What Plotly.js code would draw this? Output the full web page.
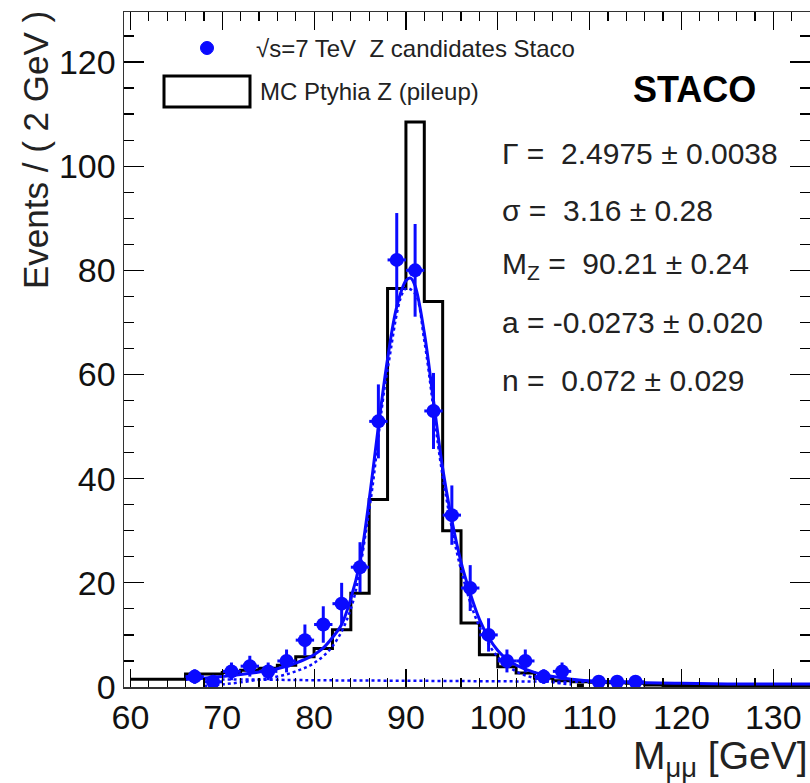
<!DOCTYPE html>
<html>
<head>
<meta charset="utf-8">
<script src="https://cdn.plot.ly/plotly-3.0.1.min.js"></script>
<style>html,body{margin:0;padding:0;background:#fff;}#plot{width:810px;height:783px;}</style>
</head>
<body>
<div id="plot"></div>
<script>
// ---- data ----
const binWidth = 2;
const mcLowEdges = [60,62,64,66,68,70,72,74,76,78,80,82,84,86,88,90,92,94,96,98,100,102,104,106,108,110,112,114,116,118,120,122,124,126,128,130,132];
const mcCounts   = [1.5,1.5,1.5,2.5,2.5,2.8,3.2,3.6,4.2,5.8,7.4,11,18,36,76.5,108.5,74,30,12.3,6.2,3.9,2.7,1.7,1.2,1.0,0.9,0.8,0.7,0.4,0.3,0.3,0.2,0.2,0.2,0.1,0.1,0.1];

const dataX   = [67,69,71,73,75,77,79,81,83,85,87,89,91,93,95,97,99,101,103,105,107,111,113,115];
const dataY   = [2,1,3,4,3,5,9,12,16,23,51,82,80,53,33,19,10,5,5,2,3,1,1,1];
const dataErr = [1.4,1,1.7,2,1.7,2.2,3,3.5,4,4.8,7.1,9,8.9,7.3,5.7,4.4,3.2,2.2,2.2,1.4,1.7,1,1,1];
const emptyX = [109];
const emptyY = [0];

const fitX = [66,68,70,72,74,76,77,78,79,80,81,82,83,84,85,86,87,88,89,90,90.5,91,92,93,94,95,96,97,98,99,100,101,102,104,106,108,110,112,114,116,120,125,130,134];
const fitY = [1.5,1.7,2.0,2.4,2.9,3.5,4.0,4.6,5.3,6.2,7.5,9.5,12,17,24,36,50,63,73,78,78.5,77,68,55,42,32,24,18,13,9.5,7,5.3,4.2,2.8,2.0,1.5,1.2,1.0,0.9,0.8,0.7,0.6,0.6,0.6];

const sigX = [68,70,72,74,76,78,80,82,84,86,88,90,91,92,94,96,98,100,102,104,106,108];
const sigY = [0.2,0.5,0.9,1.4,2.0,3.0,4.6,7.8,15,34,61,76.5,75.5,66.5,40.5,22.5,11.6,5.8,3.0,1.7,0.9,0.5];

const bgX = [66,75,80,90,100,108,116];
const bgY = [1.5,1.4,1.3,1.2,1.1,1.0,0.9];

const yTickVals = [0,20,40,60,80,100,120];
const xTickVals = [60,70,80,90,100,110,120,130];

const fitParams = [
  "Γ =  2.4975 ± 0.0038",
  "σ =  3.16 ± 0.28",
  "M<sub>Z</sub> =  90.21 ± 0.24",
  "a = -0.0273 ± 0.020",
  "n =  0.072 ± 0.029"
];
const legendLabels = ["√s=7 TeV  Z candidates Staco", "MC Ptyhia Z (pileup)"];

// ---- build traces ----
const blue = "#0a0aff";
const FONT = "Liberation Sans, Arial, Helvetica, sans-serif";

const mcStepX = mcLowEdges.concat([mcLowEdges[mcLowEdges.length-1] + binWidth]);
const mcStepY = mcCounts.concat([mcCounts[mcCounts.length-1]]);

const traces = [
  {x: mcStepX, y: mcStepY, type: "scatter", mode: "lines",
   line: {shape: "hv", color: "#000", width: 3}, hoverinfo: "skip"},
  {x: bgX, y: bgY, type: "scatter", mode: "lines",
   line: {color: blue, width: 2.5, dash: "dot", shape: "spline"}},
  {x: sigX, y: sigY, type: "scatter", mode: "lines",
   line: {color: blue, width: 2.5, dash: "dot", shape: "spline"}},
  {x: fitX, y: fitY, type: "scatter", mode: "lines",
   line: {color: blue, width: 3, shape: "spline"}},
  {x: dataX, y: dataY, type: "scatter", mode: "markers",
   marker: {color: blue, size: 14, symbol: "circle"},
   error_y: {type: "data", array: dataErr, color: blue, thickness: 3, width: 0},
   error_x: {type: "constant", value: binWidth/2, color: blue, thickness: 3, width: 0}},
  {x: emptyX, y: emptyY, type: "scatter", mode: "markers",
   marker: {color: "#000", size: 7, symbol: "square"}}
];

// ---- layout ----
const px = v => (v - 124) / 686;   // pixel -> paper x
const py = v => (687 - v) / 675;   // pixel -> paper y
const annotations = [];
const paramRows = [154, 210, 265, 322, 380];
fitParams.forEach((t, i) => {
  annotations.push({xref: "paper", yref: "paper", x: px(500), y: py(paramRows[i]),
    xanchor: "left", yanchor: "middle", text: t, showarrow: false,
    font: {family: FONT, size: 30, color: "#222"}});
});
annotations.push({xref: "paper", yref: "paper", x: px(694), y: py(89),
  xanchor: "center", yanchor: "middle", text: "<b>STACO</b>", showarrow: false,
  font: {family: FONT, size: 36, color: "#000"}});
annotations.push({xref: "paper", yref: "paper", x: px(254), y: py(48),
  xanchor: "left", yanchor: "middle", text: legendLabels[0], showarrow: false,
  font: {family: FONT, size: 24, color: "#222"}});
annotations.push({xref: "paper", yref: "paper", x: px(258), y: py(92),
  xanchor: "left", yanchor: "middle", text: legendLabels[1], showarrow: false,
  font: {family: FONT, size: 24, color: "#222"}});
annotations.push({xref: "paper", yref: "paper", x: px(35), y: py(150),
  xanchor: "center", yanchor: "middle", textangle: -90, text: "Events / ( 2 GeV )", showarrow: false,
  font: {family: FONT, size: 35, color: "#222"}});
annotations.push({xref: "paper", yref: "paper", x: 1.0, y: py(758),
  xanchor: "right", yanchor: "middle", text: "M<sub>μμ</sub> [GeV]", showarrow: false,
  font: {family: FONT, size: 39, color: "#222"}});

const shapes = [
  {type: "circle", xref: "paper", yref: "paper", xsizemode: "pixel", ysizemode: "pixel",
   xanchor: px(207), yanchor: py(48), x0: -6.5, x1: 6.5, y0: -6.5, y1: 6.5,
   fillcolor: blue, line: {color: blue, width: 1}},
  {type: "rect", xref: "paper", yref: "paper",
   x0: px(164), x1: px(250), y0: py(107), y1: py(76),
   fillcolor: "rgba(0,0,0,0)", line: {color: "#000", width: 3}}
];

const layout = {
  width: 810, height: 783,
  margin: {l: 124, r: 0, t: 12, b: 96},
  paper_bgcolor: "#fff", plot_bgcolor: "#fff",
  showlegend: false,
  font: {family: FONT, color: "#111"},
  xaxis: {range: [59.3, 134], tickvals: xTickVals, ticks: "inside", ticklen: 18, tickwidth: 1.2,
    tickcolor: "#000", showline: true, linecolor: "#333", linewidth: 1.5, mirror: "allticks",
    showgrid: false, zeroline: false, tickfont: {family: FONT, size: 34, color: "#111"},
    minor: {dtick: 2, tick0: 60, ticks: "inside", ticklen: 9, tickcolor: "#000", showgrid: false}},
  yaxis: {range: [0, 129.6], tickvals: yTickVals, ticks: "inside", ticklen: 20, tickwidth: 1.2,
    tickcolor: "#000", showline: true, linecolor: "#333", linewidth: 1.5, mirror: "allticks",
    showgrid: false, zeroline: false, tickfont: {family: FONT, size: 34, color: "#111"},
    minor: {dtick: 5, tick0: 0, ticks: "inside", ticklen: 10, tickcolor: "#000", showgrid: false}},
  annotations: annotations,
  shapes: shapes
};

Plotly.newPlot("plot", traces, layout, {displayModeBar: false, staticPlot: true});
</script>
</body>
</html>
